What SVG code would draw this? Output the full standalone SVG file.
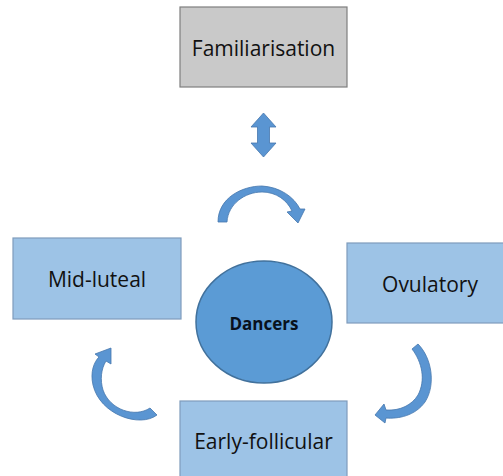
<svg xmlns="http://www.w3.org/2000/svg" width="503" height="476" viewBox="0 0 503 476">
<style>
.box{fill:#9dc3e6;stroke:#7f9cbc;stroke-width:1.2}
.grey{fill:#c9c9c9;stroke:#7f7f7f;stroke-width:1.2}
.lbl{font-family:"Open Sans","Liberation Sans",sans-serif;font-size:21px;fill:#111;text-anchor:middle}
.arr{fill:#5a95d2;stroke:#4677ad;stroke-width:0.8;stroke-linejoin:round}
</style>
<rect width="503" height="476" fill="#ffffff"/>
<g id="familiarisation">
<rect class="grey" x="180" y="7" width="167" height="80"/>
<text class="lbl" x="263.5" y="56">Familiarisation</text>
</g>
<g id="mid-luteal">
<rect class="box" x="13" y="238" width="168" height="81"/>
<text class="lbl" x="97" y="287">Mid-luteal</text>
</g>
<g id="ovulatory">
<rect class="box" x="347" y="243" width="160" height="80"/>
<text class="lbl" x="430" y="292">Ovulatory</text>
</g>
<g id="early-follicular">
<rect class="box" x="180" y="401" width="167" height="80"/>
<text class="lbl" x="263.5" y="449">Early-follicular</text>
</g>
<g id="dancers">
<ellipse cx="264" cy="322" rx="68" ry="61" fill="#5b9bd5" stroke="#41719c" stroke-width="1.5"/>
<text x="264" y="330" font-family="'Open Sans','Liberation Sans',sans-serif" font-size="17" font-weight="bold" fill="#08111c" text-anchor="middle">Dancers</text>
</g>
<g id="connectors">
<path class="arr" d="M263.5,113 L276,127 L269.5,127 L269.5,143 L276,143 L263.5,157 L251,143 L257.5,143 L257.5,127 L251,127 Z"/>
<path class="arr" d="M218,222 C218,198 242,186 262,186 C280,187 294,197 300,209 L305,209 L298,223 L287,212 L292,211 C287,200 276,192 262,192 C245,192 228,204 227,222 Z"/>
<path class="arr" d="M157,415 C140,428 100,415 93,385 C90,372 94,362 99,357 L95,354 L111,348 L111,364 L106,361 C101,369 100,380 103,390 C110,410 135,418 150,408 Z"/>
<path class="arr" d="M418,344 C432,358 436,385 425,402 C415,416 398,419 386,418 L385,423 L375,415 L384,404 L386,410 C400,411 412,405 418,395 C426,380 422,362 412,349 Z"/>
</g>
</svg>
